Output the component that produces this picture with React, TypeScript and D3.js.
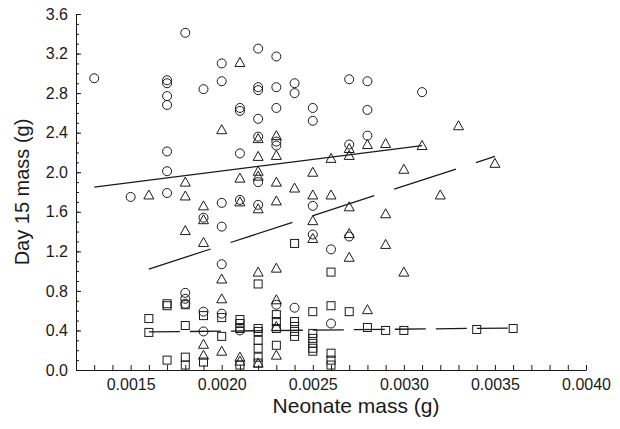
import React, { useEffect, useRef } from "react";
import * as d3 from "d3";

// neonate mass (g) -> day 15 masses (g), grouped by column
const circles: [number, number[]][] = [
  [0.0013, [2.95]],
  [0.0015, [1.75]],
  [0.0017, [2.93, 2.9, 2.77, 2.68, 2.21, 2.01, 1.79]],
  [0.0018, [3.41, 0.78, 0.72, 0.67]],
  [0.0019, [2.84, 1.54, 0.59, 0.39]],
  [0.002, [3.1, 2.92, 1.69, 1.45, 1.07, 0.57]],
  [0.0021, [2.65, 2.62, 2.19, 1.72, 0.4]],
  [0.0022, [3.25, 2.86, 2.83, 2.54, 2.36, 1.9, 1.67]],
  [0.0023, [3.17, 2.86, 2.65, 2.31, 2.27, 0.66]],
  [0.0024, [2.9, 2.8, 0.63]],
  [0.0025, [2.65, 2.52, 1.66, 1.37]],
  [0.0026, [1.22, 0.47]],
  [0.0027, [2.94, 2.28, 1.35]],
  [0.0028, [2.92, 2.63, 2.37]],
  [0.0031, [2.81]],
];

const triangles: [number, number[]][] = [
  [0.0016, [1.77]],
  [0.0018, [1.9, 1.76, 1.41]],
  [0.0019, [1.66, 1.52, 1.29, 0.26, 0.15]],
  [0.002, [2.43, 0.92, 0.72, 0.19]],
  [0.0021, [3.11, 1.94, 1.7, 0.13, 0.09]],
  [0.0022, [2.34, 2.16, 2.01, 1.96, 1.63, 0.99, 0.07]],
  [0.0023, [2.37, 2.17, 1.9, 1.71, 1.03, 0.71, 0.44, 0.15]],
  [0.0024, [1.84]],
  [0.0025, [2.0, 1.77, 1.51, 1.33]],
  [0.0026, [2.14, 1.77]],
  [0.0027, [2.24, 2.17, 1.65, 1.38, 1.14]],
  [0.0028, [2.28, 0.61]],
  [0.0029, [2.29, 1.58, 1.27]],
  [0.003, [2.03, 0.99]],
  [0.0031, [2.27]],
  [0.0032, [1.77]],
  [0.0033, [2.47]],
  [0.0035, [2.09]],
];

const squares: [number, number[]][] = [
  [0.0016, [0.52, 0.38]],
  [0.0017, [0.67, 0.65, 0.1]],
  [0.0018, [0.66, 0.45, 0.13, 0.05]],
  [0.0019, [0.55, 0.08]],
  [0.002, [0.53, 0.34]],
  [0.0021, [0.51, 0.47, 0.42, 0.05]],
  [0.0022, [0.87, 0.42, 0.39, 0.3, 0.22, 0.13, 0.07]],
  [0.0023, [0.56, 0.49, 0.42, 0.25]],
  [0.0024, [1.28, 0.49, 0.44, 0.39, 0.34]],
  [0.0025, [0.59, 0.37, 0.32, 0.27, 0.22, 0.19]],
  [0.0026, [0.99, 0.65, 0.17, 0.1, 0.05]],
  [0.0027, [0.59]],
  [0.0028, [0.43]],
  [0.0029, [0.4]],
  [0.003, [0.4]],
  [0.0034, [0.41]],
  [0.0036, [0.42]],
];

// fitted regression lines (start and end, in data units)
const circleFit: [number, number][] = [[0.0013, 1.85], [0.0031, 2.27]];
const triangleFit: [number, number][] = [[0.0016, 1.02], [0.0035, 2.16]];
const squareFit: [number, number][] = [[0.0016, 0.385], [0.0036, 0.425]];

const xTickLabels = ["0.0015", "0.0020", "0.0025", "0.0030", "0.0035", "0.0040"];
const yTickLabels = ["0.0", "0.4", "0.8", "1.2", "1.6", "2.0", "2.4", "2.8", "3.2", "3.6"];

const flatten = (cols: [number, number[]][]) =>
  cols.flatMap(([x, ys]) => ys.map(y => ({ x, y })));

const App = () => {
  const chartRef = useRef<SVGSVGElement>(null);

  useEffect(() => {
    document.body.style.margin = "0";
    const svg = d3.select(chartRef.current);
    svg.selectAll("*").remove();

    const font = "'Liberation Sans', Arial, sans-serif";
    const ink = "#1a1a1a";

    const x = d3.scaleLinear().domain([0.0012, 0.004]).range([76, 586]);
    const y = d3.scaleLinear().domain([0, 3.6]).range([370, 14]);

    // Axes
    const xMinor = d3.range(12, 41).map(d => d / 10000);
    const yMinor = d3.range(0, 37).map(d => d / 10);
    const xMajor = xTickLabels.map(Number);
    const yMajor = yTickLabels.map(Number);

    const xAxis = svg.append("g")
      .attr("transform", "translate(0,370)")
      .call(
        d3.axisBottom(x)
          .tickValues(xMinor)
          .tickSizeInner(-5)
          .tickSizeOuter(0)
          .tickPadding(9)
          .tickFormat(d => {
            const i = xMajor.findIndex(v => Math.abs(v - (d as number)) < 1e-9);
            return i >= 0 ? xTickLabels[i] : "";
          })
      );

    const yAxisMinor = svg.append("g")
      .attr("transform", "translate(76,0)")
      .call(d3.axisLeft(y).tickValues(yMinor).tickSizeInner(-3).tickSizeOuter(0).tickFormat(() => ""));
    yAxisMinor.select(".domain").remove();

    const yAxis = svg.append("g")
      .attr("transform", "translate(76,0)")
      .call(
        d3.axisLeft(y)
          .tickValues(yMajor)
          .tickSizeInner(-5)
          .tickSizeOuter(0)
          .tickPadding(8)
          .tickFormat((d, i) => yTickLabels[i])
      );

    [xAxis, yAxis, yAxisMinor].forEach(g => {
      g.selectAll("path,line").attr("stroke", ink).attr("stroke-width", 1);
      g.selectAll("text").attr("font-family", font).attr("font-size", 16).attr("fill", ink);
    });

    // Axis titles
    svg.append("text")
      .attr("x", 356)
      .attr("y", 413)
      .attr("text-anchor", "middle")
      .attr("font-family", font)
      .attr("font-size", 21)
      .attr("fill", ink)
      .text("Neonate mass (g)");

    svg.append("text")
      .attr("transform", "translate(29,192) rotate(-90)")
      .attr("text-anchor", "middle")
      .attr("font-family", font)
      .attr("font-size", 20)
      .attr("fill", ink)
      .text("Day 15 mass (g)");

    // Regression lines
    const line = d3.line<[number, number]>().x(d => x(d[0])).y(d => y(d[1]));
    const fits: [[number, number][], string | null][] = [
      [circleFit, null],
      [triangleFit, "65,21"],
      [squareFit, "31,10"],
    ];
    fits.forEach(([pts, dash]) => {
      svg.append("path")
        .datum(pts)
        .attr("fill", "none")
        .attr("stroke", ink)
        .attr("stroke-width", 1.3)
        .attr("stroke-dasharray", dash)
        .attr("d", line);
    });

    // Markers
    const marks = svg.append("g").attr("fill", "none").attr("stroke", ink).attr("stroke-width", 1);

    marks.selectAll("circle.c")
      .data(flatten(circles))
      .join("circle")
      .attr("cx", d => x(d.x))
      .attr("cy", d => y(d.y))
      .attr("r", 4.5);

    marks.selectAll("path.t")
      .data(flatten(triangles))
      .join("path")
      .attr("transform", d => `translate(${x(d.x)},${y(d.y)})`)
      .attr("d", "M0,-5L5,4L-5,4Z");

    marks.selectAll("rect.s")
      .data(flatten(squares))
      .join("rect")
      .attr("x", d => x(d.x) - 4)
      .attr("y", d => y(d.y) - 4)
      .attr("width", 8)
      .attr("height", 8);
  }, []);

  return <svg ref={chartRef} width={620} height={429} style={{ display: "block" }}></svg>;
};

export default App;
